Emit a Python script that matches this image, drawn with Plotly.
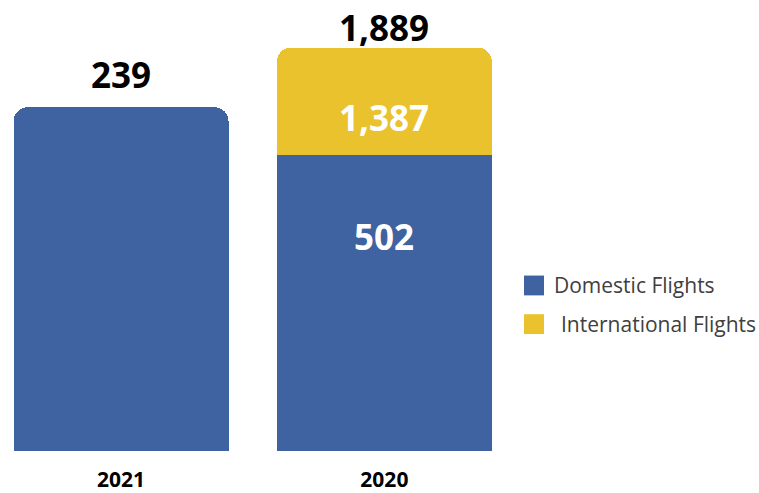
import plotly.graph_objects as go

# Categories and values shown on the chart
years = ["2021", "2020"]
domestic_label = ["239", "502"]
international_label = ["", "1,387"]
total_label = ["239", "1,889"]
# Bar heights as drawn in the picture (the infographic is not to scale)
domestic_drawn = [1610, 1387]
international_drawn = [0, 502]

series_names = ["Domestic Flights", "International Flights"]
colors = ["#3F62A0", "#E9C22E"]

FONT = "Open Sans"

fig = go.Figure()
fig.add_trace(go.Bar(x=years, y=domestic_drawn, name=series_names[0],
                     marker=dict(color=colors[0], line=dict(width=0)),
                     showlegend=False, hoverinfo="skip"))
fig.add_trace(go.Bar(x=years, y=international_drawn, name=series_names[1],
                     marker=dict(color=colors[1], line=dict(width=0)),
                     showlegend=False, hoverinfo="skip"))

totals = [d + i for d, i in zip(domestic_drawn, international_drawn)]
ann = []
# totals above the bars
top_shift = [33, 20]
for k, yr in enumerate(years):
    ann.append(dict(x=k, y=totals[k], text=total_label[k], showarrow=False,
                    xref="x", yref="y", yanchor="middle", yshift=top_shift[k],
                    font=dict(family=FONT, size=35, color="#000000", weight=700)))
# inner labels for 2020
ann.append(dict(x=1, y=totals[1], text=international_label[1], showarrow=False,
                xref="x", yref="y", yanchor="middle", yshift=-70,
                font=dict(family=FONT, size=35, color="#FFFFFF", weight=700)))
ann.append(dict(x=1, y=domestic_drawn[1], text=domestic_label[1], showarrow=False,
                xref="x", yref="y", yanchor="middle", yshift=-82,
                font=dict(family=FONT, size=35, color="#FFFFFF", weight=700)))

# manual legend
PW, PH = 516.0, 455.0
def px_x(p):
    return p / PW
def px_y(p):
    return (PH - p) / PH

shapes = []
leg_rows = [(278, 298, 552, 288, series_names[0]), (317, 337, 559, 327, series_names[1])]
for (y0, y1, tx, ty, name), c in zip(leg_rows, colors):
    shapes.append(dict(type="rect", xref="paper", yref="paper",
                       x0=px_x(524), x1=px_x(544), y0=px_y(y1), y1=px_y(y0),
                       fillcolor=c, line=dict(width=0)))
    ann.append(dict(xref="paper", yref="paper", x=px_x(tx), y=px_y(ty), text=name,
                    showarrow=False, xanchor="left", yanchor="middle",
                    font=dict(family=FONT, size=21, color="#404040")))

fig.update_layout(
    width=759, height=493,
    margin=dict(l=0, r=243, t=0, b=34),
    paper_bgcolor="white", plot_bgcolor="white",
    barmode="stack", bargap=0.184, barcornerradius=14,
    showlegend=False,
    annotations=ann, shapes=shapes,
    xaxis=dict(type="category", range=[-0.46, 1.5], showgrid=False, zeroline=False,
               showline=False, ticks="", ticklabelstandoff=14,
               tickfont=dict(family=FONT, size=21, color="#000000", weight=700)),
    yaxis=dict(range=[0, 2112], visible=False),
)

fig.write_html("out.html", config={"displayModeBar": False},
               post_script="document.body.style.margin='0';")
